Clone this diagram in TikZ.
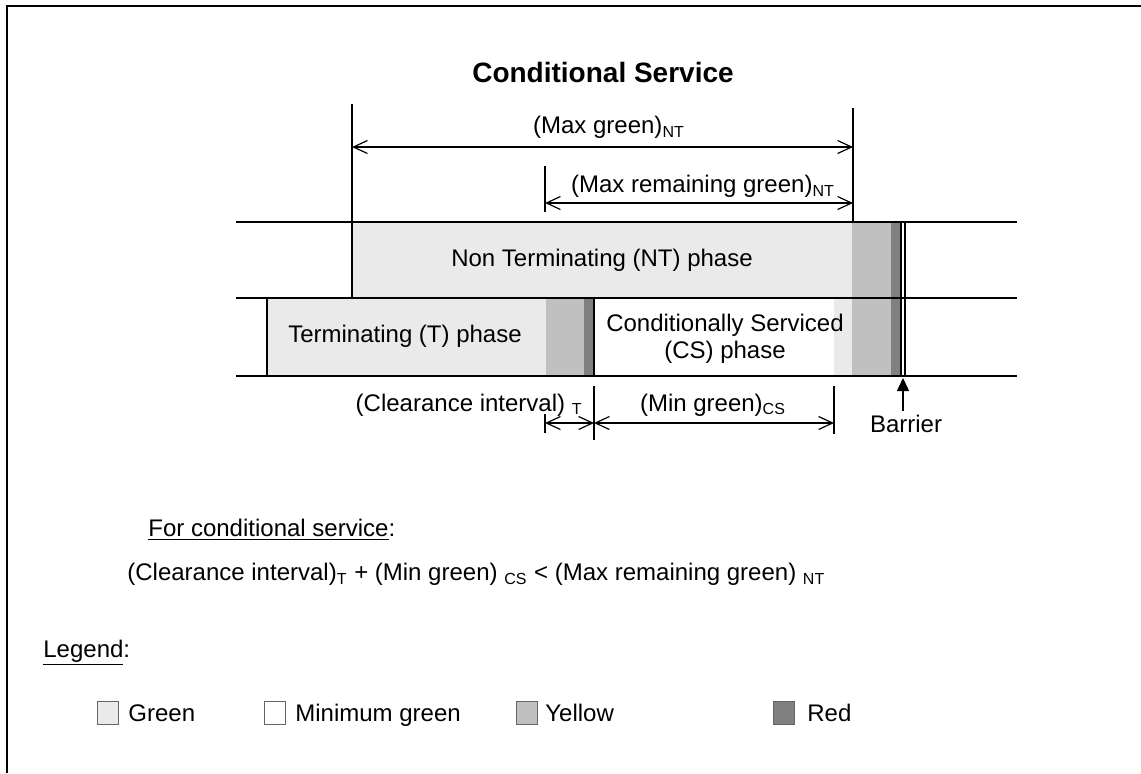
\documentclass[tikz,border=0pt]{standalone}
\usepackage{fontspec}
\setmainfont{Liberation Sans}
\usetikzlibrary{arrows.meta}
\definecolor{sgreen}{HTML}{EAEAEA}
\definecolor{syellow}{HTML}{C0C0C0}
\definecolor{sred}{HTML}{808080}
\begin{document}
\begin{tikzpicture}[x=0.5pt,y=-0.5pt,
  txt/.style={inner sep=0pt, font=\fontsize{12}{13.5}\selectfont},
  dim/.style={line width=0.6pt, {Straight Barb[length=7pt,width=6.5pt]}-{Straight Barb[length=7pt,width=6.5pt]}},
  tick/.style={line width=0.55pt},
  edge/.style={line width=0.75pt},
  bar/.style={line width=1pt},
  keybox/.style={draw=black!60, line width=0.5pt, minimum width=10.5pt, minimum height=11.5pt, inner sep=0pt, anchor=west},
]
\useasboundingbox (0,0) rectangle (1141,773);
% outer frame (top and left sides)
\draw[line width=1.25pt] (7,773) -- (7,6) -- (1141,6);

% title
\node[txt, font=\fontsize{14}{16}\selectfont\bfseries, anchor=base] (title) at (603,82) {Conditional Service};

% phase fills
\fill[sgreen]  (352,222) rectangle (852,298);
\fill[syellow] (852,222) rectangle (891,376);
\fill[sred]    (891,222) rectangle (900,376);
\fill[sgreen]  (834,298) rectangle (852,376);
\fill[sgreen]  (267,298) rectangle (546,376);
\fill[syellow] (546,298) rectangle (584,376);
\fill[sred]    (584,298) rectangle (594,376);

% row lines
\draw[bar] (236,222) -- (1017,222);
\draw[bar] (236,298) -- (1017,298);
\draw[bar] (236,376) -- (1017,376);

% phase edges and barrier
\draw[edge] (352,298) -- (352,222);
\draw[edge] (267,298) -- (267,376);
\draw[edge] (594,298) -- (594,376);
\draw[edge] (901,222) -- (901,376);
\draw[edge] (905,222) -- (905,376);

% phase labels
\node[txt, anchor=base] (nt) at (602,266.5) {Non Terminating (NT) phase};
\node[txt, anchor=base] (tp) at (405,342.5) {Terminating (T) phase};
\node[txt, align=center] (cs) at (725,339) {Conditionally Serviced\\(CS) phase};

% upper dimensions
\coordinate (mgL) at (352,147);
\coordinate (mgR) at (853,147);
\coordinate (mrL) at (545,203);
\coordinate (mrR) at (853,203);
\draw[tick] (352,104) -- (mgL) -- (352,222);
\draw[tick] (853,108) -- (mgR) -- (853,222);
\draw[tick] (545,166) -- (mrL) -- (545,212);
\draw[dim] (mgL) -- (mgR);
\draw[dim] (mrL) -- (mrR);
\node[txt, anchor=base] (mglab) at (609,133.5) {(Max green)\textsubscript{NT}};
\node[txt, anchor=base] (mrlab) at (703,192.5) {(Max remaining green)\textsubscript{NT}};

% lower dimensions
\coordinate (ciL) at (545,423);
\coordinate (ciR) at (594,423);
\coordinate (mnR) at (834,423);
\draw[tick] (545,414) -- (545,433);
\draw[tick] (594,386) -- (594,440);
\draw[tick] (834,386) -- (834,434);
\draw[dim] (ciL) -- (ciR);
\draw[dim] (ciR) -- (mnR);
\node[txt, anchor=base east] (cilab) at (583,411) {(Clearance interval) \textsubscript{T}};
\node[txt, anchor=base] (mnlab) at (713,411) {(Min green)\textsubscript{CS}};

% barrier marker
\coordinate (barT) at (903,378);
\coordinate (barB) at (903,411);
\draw[line width=0.75pt, -{Triangle[length=6.5pt,width=6pt]}] (barB) -- (barT);
\node[txt, anchor=base] (barlab) at (906,432) {Barrier};

% condition
\node[txt, anchor=base west] (cond) at (148,536) {\underline{For conditional service}:};
\node[txt, anchor=base west] (eq) at (127,580.5) {(Clearance interval)\textsubscript{T} + (Min green) \textsubscript{CS} < (Max remaining green) \textsubscript{NT}};

% legend
\node[txt, anchor=base west] (leg) at (43,657) {\underline{Legend}:};
\node[keybox, fill=sgreen]  (kg) at (97,713) {};
\node[txt, anchor=base west] (kgt) at (128,721.5) {Green};
\node[keybox, fill=white]   (km) at (264,713) {};
\node[txt, anchor=base west] (kmt) at (295,721.5) {Minimum green};
\node[keybox, fill=syellow] (ky) at (516,713) {};
\node[txt, anchor=base west] (kyt) at (545,721.5) {Yellow};
\node[keybox, fill=sred]    (kr) at (773,713) {};
\node[txt, anchor=base west] (krt) at (807,721.5) {Red};
\end{tikzpicture}
\end{document}
